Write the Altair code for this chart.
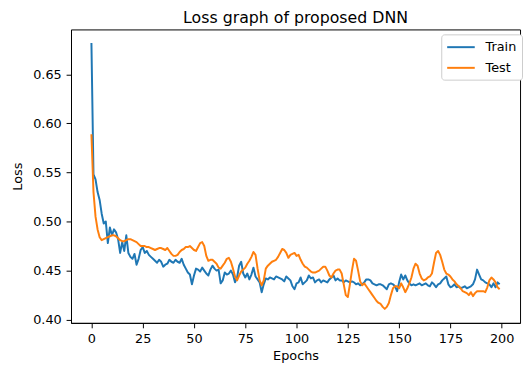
import altair as alt
import pandas as pd

# ---- data ----
epochs = list(range(200))

train_loss = [
    0.682, 0.548, 0.543, 0.530, 0.522, 0.508, 0.498, 0.500, 0.478, 0.494,
    0.486, 0.492, 0.489, 0.482, 0.468, 0.479, 0.470, 0.486, 0.468, 0.464,
    0.462, 0.467, 0.456, 0.462, 0.471, 0.474, 0.468, 0.470, 0.466, 0.464,
    0.462, 0.460, 0.458, 0.461, 0.459, 0.454, 0.456, 0.457, 0.461, 0.459,
    0.458, 0.461, 0.459, 0.458, 0.462, 0.456, 0.452, 0.448, 0.446, 0.436,
    0.445, 0.452, 0.451, 0.449, 0.453, 0.450, 0.447, 0.445, 0.451, 0.455,
    0.452, 0.450, 0.451, 0.437, 0.440, 0.448, 0.446, 0.447, 0.450, 0.446,
    0.438, 0.443, 0.455, 0.459, 0.447, 0.443, 0.447, 0.441, 0.446, 0.453,
    0.444, 0.441, 0.438, 0.428, 0.436, 0.442, 0.441, 0.443, 0.442, 0.441,
    0.444, 0.443, 0.442, 0.441, 0.439, 0.444, 0.442, 0.440, 0.434, 0.431,
    0.437, 0.438, 0.443, 0.436, 0.438, 0.440, 0.445, 0.442, 0.443, 0.438,
    0.440, 0.441, 0.438, 0.440, 0.439, 0.438, 0.441, 0.443, 0.445, 0.440,
    0.442, 0.440, 0.440, 0.438, 0.440, 0.439, 0.438, 0.439, 0.438, 0.436,
    0.437, 0.435, 0.436, 0.438, 0.441, 0.441, 0.440, 0.437, 0.436, 0.435,
    0.436, 0.436, 0.435, 0.433, 0.431, 0.436, 0.437, 0.436, 0.434, 0.429,
    0.438, 0.446, 0.441, 0.445, 0.440, 0.437, 0.435, 0.436, 0.435, 0.436,
    0.437, 0.435, 0.436, 0.437, 0.435, 0.434, 0.438, 0.436, 0.433, 0.436,
    0.437, 0.440, 0.442, 0.444, 0.436, 0.433, 0.434, 0.436, 0.433, 0.434,
    0.432, 0.433, 0.434, 0.432, 0.433, 0.434, 0.436, 0.441, 0.451, 0.446,
    0.441, 0.440, 0.438, 0.437, 0.436, 0.433, 0.437, 0.433, 0.438, 0.436,
]

test_loss = [
    0.589, 0.530, 0.505, 0.492, 0.484, 0.481, 0.482, 0.483, 0.484, 0.485,
    0.486, 0.486, 0.485, 0.483, 0.481, 0.480, 0.480, 0.481, 0.482, 0.482,
    0.481, 0.480, 0.479, 0.477, 0.475, 0.475, 0.475, 0.474, 0.474, 0.473,
    0.472, 0.471, 0.472, 0.473, 0.473, 0.472, 0.471, 0.473, 0.470, 0.467,
    0.465, 0.465, 0.466, 0.469, 0.471, 0.472, 0.474, 0.474, 0.475, 0.473,
    0.471, 0.470, 0.474, 0.478, 0.479, 0.475, 0.465, 0.460, 0.461, 0.461,
    0.459, 0.457, 0.453, 0.452, 0.455, 0.458, 0.462, 0.463, 0.459, 0.452,
    0.444, 0.440, 0.445, 0.449, 0.451, 0.453, 0.457, 0.460, 0.464, 0.469,
    0.466, 0.452, 0.440, 0.435, 0.440, 0.452, 0.455, 0.457, 0.459, 0.460,
    0.461, 0.464, 0.468, 0.472, 0.471, 0.468, 0.463, 0.466, 0.467, 0.468,
    0.465, 0.466, 0.461, 0.457, 0.454, 0.453, 0.451, 0.449, 0.448, 0.448,
    0.449, 0.450, 0.452, 0.454, 0.454, 0.450, 0.445, 0.443, 0.447, 0.450,
    0.451, 0.451, 0.447, 0.436, 0.425, 0.423, 0.436, 0.450, 0.462, 0.460,
    0.450, 0.439, 0.435, 0.437, 0.434, 0.431, 0.428, 0.425, 0.422, 0.419,
    0.417, 0.416, 0.413, 0.411, 0.413, 0.417, 0.425, 0.432, 0.434, 0.434,
    0.432, 0.437, 0.433, 0.428, 0.432, 0.437, 0.443, 0.452, 0.457, 0.455,
    0.447, 0.442, 0.440, 0.441, 0.443, 0.444, 0.447, 0.458, 0.468, 0.470,
    0.466, 0.459, 0.451, 0.447, 0.446, 0.444, 0.441, 0.439, 0.436, 0.434,
    0.432, 0.429, 0.428, 0.427, 0.425, 0.428, 0.424, 0.427, 0.429, 0.429,
    0.429, 0.429, 0.428, 0.433, 0.440, 0.443, 0.441, 0.438, 0.433, 0.431,
]

series_names = ["Train", "Test"]
series_colors = ["#1f77b4", "#ff7f0e"]
x_ticks = [0, 25, 50, 75, 100, 125, 150, 175, 200]
y_ticks = [0.40, 0.45, 0.50, 0.55, 0.60, 0.65]

df = pd.DataFrame({
    "Epoch": epochs + epochs,
    "Loss": train_loss + test_loss,
    "Series": [series_names[0]] * len(epochs) + [series_names[1]] * len(epochs),
})

FONT = "DejaVu Sans"

color = alt.Color(
    "Series:N",
    scale=alt.Scale(domain=series_names, range=series_colors),
    legend=alt.Legend(
        title=None,
        orient="none",
        legendX=376,
        legendY=5,
        symbolType="M-1,0H3",
        symbolSize=196,
        symbolStrokeWidth=2,
        labelOffset=24,
        labelFontSize=13,
        labelFont=FONT,
        labelColor="black",
        padding=5,
        rowPadding=6,
        strokeColor="#cccccc",
        cornerRadius=3,
        fillColor="white",
    ),
)

base = alt.Chart(df).mark_line(strokeWidth=2, strokeJoin="round").encode(
    x=alt.X(
        "Epoch:Q",
        scale=alt.Scale(domain=[-9.95, 208.95], nice=False, zero=False),
        axis=alt.Axis(values=x_ticks, title="Epochs", grid=False, titlePadding=4),
    ),
    y=alt.Y(
        "Loss:Q",
        scale=alt.Scale(domain=[0.3967, 0.6958], nice=False, zero=False),
        axis=alt.Axis(values=y_ticks, format=".2f", title="Loss", grid=False, titlePadding=8),
    ),
    color=color,
)

train = base.transform_filter(alt.datum.Series == series_names[0])
test = base.transform_filter(alt.datum.Series == series_names[1])

chart = (
    alt.layer(train, test)
    .properties(
        width=456,
        height=298,
        title=alt.TitleParams(
            "Loss graph of proposed DNN",
            font=FONT,
            fontSize=16,
            fontWeight="normal",
            color="black",
            anchor="middle",
            offset=4,
        ),
        autosize=alt.AutoSizeParams(type="none"),
        padding={"left": 64, "top": 19, "right": 3, "bottom": 40},
    )
    .configure_view(stroke="black", strokeWidth=1)
    .configure_axis(
        domainColor="black",
        tickColor="black",
        labelColor="black",
        titleColor="black",
        labelFont=FONT,
        titleFont=FONT,
        labelFontSize=13,
        titleFontSize=13,
        titleFontWeight="normal",
        tickSize=5,
        labelPadding=5,
        domainWidth=1,
        tickWidth=1,
    )
)

chart.save("out.html", embed_options={"renderer": "svg", "actions": False})
